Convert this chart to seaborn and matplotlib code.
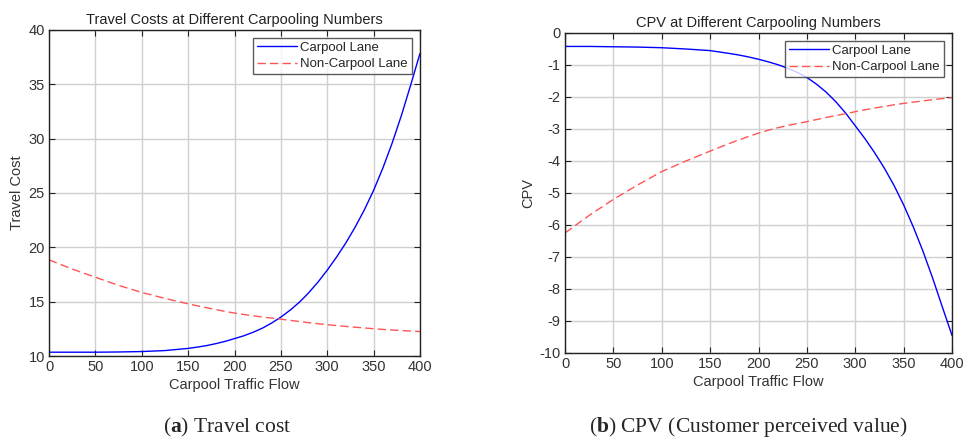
import numpy as np
import pandas as pd
import matplotlib
matplotlib.use("Agg")
import matplotlib.pyplot as plt
import seaborn as sns

flow = [0, 25, 50, 75, 100, 125, 150, 160, 170, 180, 190, 200, 210, 220, 230, 240, 250,
        260, 270, 280, 290, 300, 310, 320, 330, 340, 350, 360, 370, 380, 390, 400]

cost_carpool = [10.35, 10.35, 10.35, 10.37, 10.41, 10.5, 10.7, 10.82, 10.96, 11.14, 11.35,
                11.6, 11.86, 12.18, 12.56, 13.03, 13.58, 14.22, 14.95, 15.82, 16.8, 17.9,
                19.1, 20.4, 21.85, 23.45, 25.25, 27.3, 29.6, 32.15, 34.95, 37.85]
cost_noncarpool = [18.85, 18.0, 17.25, 16.5, 15.85, 15.3, 14.8, 14.62, 14.44, 14.27, 14.1,
                   13.95, 13.82, 13.7, 13.59, 13.49, 13.39, 13.28, 13.17, 13.07, 12.97, 12.88,
                   12.8, 12.72, 12.65, 12.58, 12.51, 12.45, 12.39, 12.34, 12.29, 12.25]

cpv_carpool = [-0.42, -0.42, -0.43, -0.44, -0.46, -0.5, -0.55, -0.595, -0.64, -0.69, -0.75,
               -0.82, -0.9, -0.99, -1.1, -1.23, -1.39, -1.6, -1.85, -2.15, -2.5, -2.9,
               -3.3, -3.74, -4.22, -4.76, -5.37, -6.06, -6.82, -7.66, -8.56, -9.45]
cpv_noncarpool = [-6.25, -5.7, -5.2, -4.75, -4.33, -4.0, -3.69, -3.57, -3.45, -3.34, -3.23,
                  -3.13, -3.04, -2.96, -2.89, -2.83, -2.77, -2.705, -2.64, -2.58, -2.52, -2.46,
                  -2.4, -2.345, -2.295, -2.245, -2.2, -2.16, -2.12, -2.085, -2.05, -2.02]

series_names = ["Carpool Lane", "Non-Carpool Lane"]
xticks = [0, 50, 100, 150, 200, 250, 300, 350, 400]
yticks_cost = [10, 15, 20, 25, 30, 35, 40]
yticks_cpv = [0, -1, -2, -3, -4, -5, -6, -7, -8, -9, -10]

sns.set_style("ticks")
plt.rcParams['font.family'] = ['Liberation Sans', 'DejaVu Sans']
plt.rcParams['mathtext.fontset'] = 'custom'
plt.rcParams['mathtext.rm'] = 'Liberation Serif'
plt.rcParams['mathtext.bf'] = 'Liberation Serif:bold'

W, H = 967, 441
fig = plt.figure(figsize=(W / 100, H / 100), dpi=100)

def axes_px(x0, y0, x1, y1):
    return fig.add_axes([x0 / W, 1 - y1 / H, (x1 - x0) / W, (y1 - y0) / H])

ax1 = axes_px(49, 30, 420, 356)
ax2 = axes_px(565, 33, 952, 353)

def make_df(a, b):
    return pd.DataFrame({
        "flow": flow + flow,
        "value": list(a) + list(b),
        "lane": [series_names[0]] * len(flow) + [series_names[1]] * len(flow),
    })

palette = {series_names[0]: "#0000ff", series_names[1]: "#ff5555"}
dashes = {series_names[0]: "", series_names[1]: (6, 3)}

def draw(ax, a, b, yl, yt, title, ylabel):
    df = make_df(a, b)
    sns.lineplot(data=df, x="flow", y="value", hue="lane", style="lane",
                 palette=palette, dashes=dashes, linewidth=1.0, ax=ax)
    ax.set_xlim(0, 400)
    ax.set_ylim(*yl)
    ax.set_xticks(xticks)
    ax.set_yticks(yt)
    ax.set_yticklabels([str(v) for v in yt])
    ax.grid(True, color="#d0d0d0", linewidth=1.0)
    ax.set_axisbelow(True)
    ax.tick_params(direction="in", top=True, right=True, length=4, width=0.8,
                   labelsize=10.5, colors="#222222", labelcolor="#333333", pad=3)
    for s in ax.spines.values():
        s.set_linewidth(1.0)
        s.set_color("#222222")
    ax.set_xlabel("Carpool Traffic Flow", fontsize=10.5, color="#333333", labelpad=3)
    ax.set_ylabel(ylabel, fontsize=10.5, color="#333333", labelpad=3)
    ax.set_title(title, fontsize=10.5, color="#222222", pad=4)
    leg = ax.legend(loc="upper right", fontsize=9.5, frameon=True, fancybox=False,
                    edgecolor="#333333", borderpad=0.3, handlelength=3.0,
                    handletextpad=0.3, labelspacing=0.3, borderaxespad=0.6)
    leg.get_frame().set_linewidth(1.0)

draw(ax1, cost_carpool, cost_noncarpool, (10, 40), yticks_cost,
     "Travel Costs at Different Carpooling Numbers", "Travel Cost")
draw(ax2, cpv_carpool, cpv_noncarpool, (-10, 0), yticks_cpv,
     "CPV at Different Carpooling Numbers", "CPV")

serif = ['Liberation Serif', 'DejaVu Serif']
fig.text(227 / W, 1 - 427 / H, r"($\mathbf{a}$) Travel cost", ha="center", va="center",
         fontsize=15.5, family=serif)
fig.text(748 / W, 1 - 427 / H, r"($\mathbf{b}$) CPV (Customer perceived value)", ha="center",
         va="center", fontsize=15.5, family=serif)

fig.savefig("out.png", dpi=100)
